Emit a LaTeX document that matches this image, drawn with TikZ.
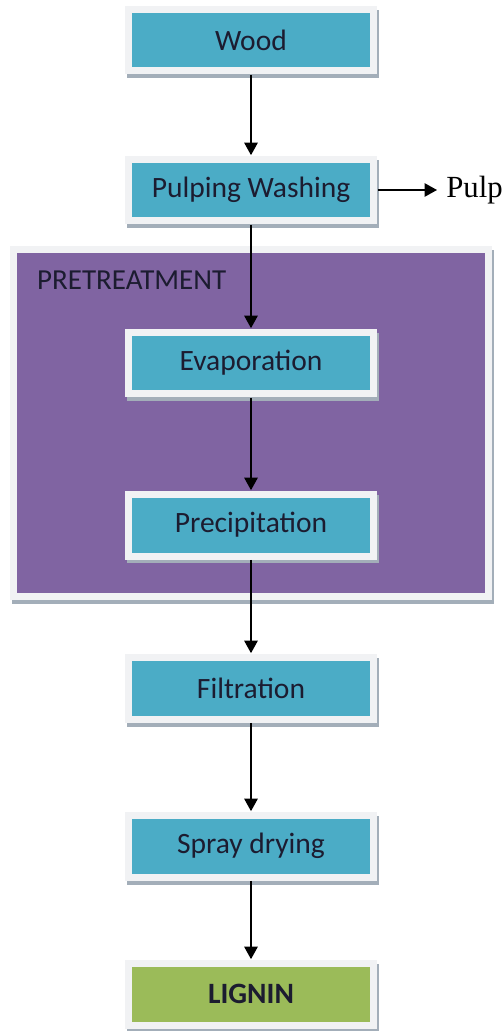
\documentclass[tikz,border=0pt]{standalone}
\usepackage{fontspec}
\setmainfont{Carlito}
\newfontfamily\pulpfont{Liberation Serif}
\usetikzlibrary{arrows.meta, shadows}
\definecolor{stepteal}{HTML}{4BACC6}
\definecolor{steprim}{HTML}{F1F2F4}
\definecolor{stepshadow}{HTML}{A3AEB9}
\definecolor{prepurple}{HTML}{8064A2}
\definecolor{lignigreen}{HTML}{9BBB59}
\definecolor{steptext}{HTML}{1C1C30}

\begin{document}
\begin{tikzpicture}[x=0.02cm, y=-0.02cm,
	framed/.style={rectangle, fill=steprim, text=steptext, inner sep=0pt,
		drop shadow={shadow xshift=0.04cm, shadow yshift=-0.08cm, fill=stepshadow, opacity=1},
		path picture={\fill[#1] ([shift={(0.14cm,0.14cm)}]path picture bounding box.south west)
			rectangle ([shift={(-0.14cm,-0.14cm)}]path picture bounding box.north east);}},
	stepbox/.style={framed=stepteal, minimum width=5.06cm, minimum height=1.38cm,
		font=\fontsize{16.8}{19}\selectfont},
	flow/.style={-{Triangle[length=0.25cm, width=0.27cm]}, line width=0.75pt}]
	\useasboundingbox (0, 0) rectangle (502, 1031);
	% Pretreatment block:
	\node[framed=prepurple, minimum width=9.64cm, minimum height=7.1cm] (pre) at (251, 423){};
	\node[anchor=west, text=steptext, font=\fontsize{16.5}{19}\selectfont] (pretitle) at (31, 280){PRETREATMENT};
	% Process steps:
	\node[stepbox] (wood) at (251, 40){Wood};
	\node[stepbox] (washing) at (251, 190){Pulping Washing};
	\node[stepbox] (evap) at (251, 363){Evaporation};
	\node[stepbox] (precip) at (251, 525){Precipitation};
	\node[stepbox] (filter) at (251, 688){Filtration};
	\node[stepbox] (spray) at (251, 846){Spray drying};
	\node[stepbox, framed=lignigreen, font=\fontsize{16.8}{19}\selectfont\bfseries] (lignin) at (251, 994){LIGNIN};
	\node[anchor=west, inner xsep=0.18cm, inner ysep=0pt, font=\pulpfont\fontsize{17.5}{20}\selectfont] (pulp) at (437, 190){Pulp};
	% Arrows:
	\draw[flow] (wood) -- (washing);
	\draw[flow] (washing) -- (evap);
	\draw[flow] (evap) -- (precip);
	\draw[flow] (precip) -- (filter);
	\draw[flow] (filter) -- (spray);
	\draw[flow] (spray) -- (lignin);
	\draw[flow] (washing) -- (pulp);
\end{tikzpicture}
\end{document}
